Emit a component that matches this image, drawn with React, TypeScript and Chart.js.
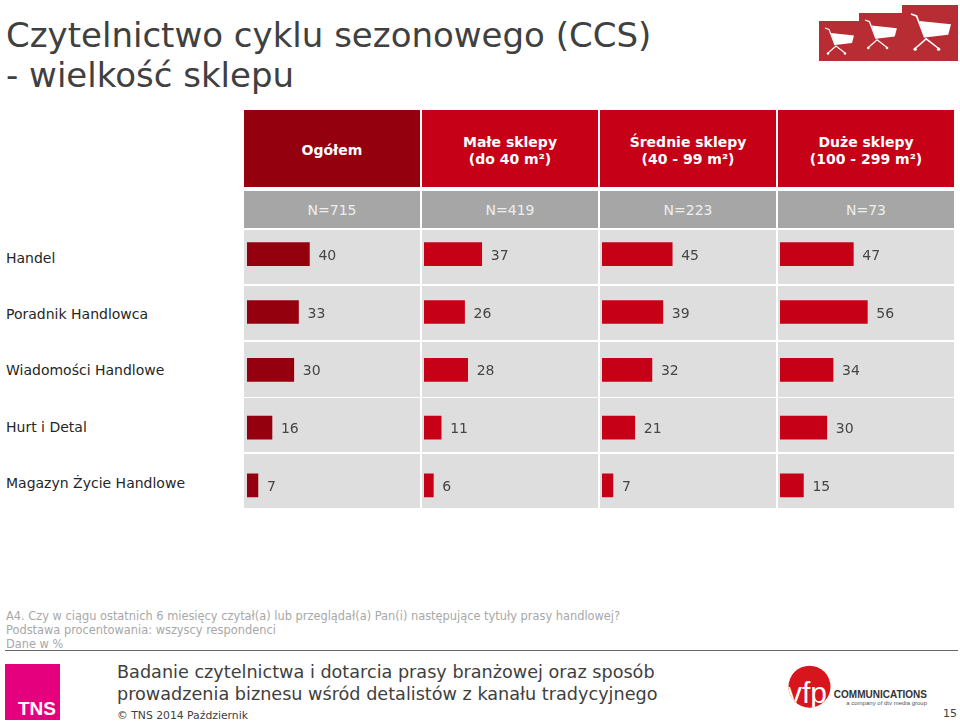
import React, { useEffect, useRef } from "react";
import { Chart, registerables } from "chart.js";

Chart.register(...registerables);

const titleLines = ["Czytelnictwo cyklu sezonowego (CCS)", "- wielkość sklepu"];
const categories = ["Handel", "Poradnik Handlowca", "Wiadomości Handlowe", "Hurt i Detal", "Magazyn Życie Handlowe"];
const columnHeaders = [["Ogółem"], ["Małe sklepy", "(do 40 m²)"], ["Średnie sklepy", "(40 - 99 m²)"], ["Duże sklepy", "(100 - 299 m²)"]];
const sampleSizes = ["N=715", "N=419", "N=223", "N=73"];
const ogolem = [40, 33, 30, 16, 7];
const maleSklepy = [37, 26, 28, 11, 6];
const srednieSklepy = [45, 39, 32, 21, 7];
const duzeSklepy = [47, 56, 34, 30, 15];
const seriesValues = [ogolem, maleSklepy, srednieSklepy, duzeSklepy];
const footnotes = [
  "A4. Czy w ciągu ostatnich 6 miesięcy czytał(a) lub przeglądał(a) Pan(i) następujące tytuły prasy handlowej?",
  "Podstawa procentowania: wszyscy respondenci",
  "Dane w %",
];
const footerLines = ["Badanie czytelnictwa i dotarcia prasy branżowej oraz sposób", "prowadzenia biznesu wśród detalistów z kanału tradycyjnego"];

const FONT = '"DejaVu Sans", Verdana, sans-serif';
const DARK = "#95000f";
const RED = "#c60017";
const colX = [244, 422, 600, 778];
const colW = 176;
const barBase = [247, 424, 602, 780];
const rowTops = [230, 286, 342, 398, 454];
const rowHeights = [54, 54, 55, 54, 54];
const labelY = [258, 314, 370, 427, 483];

function T({ x, y, size, color, children, w, align, bold, h = 24, font = FONT, spacing }: any) {
  return (
    <div
      style={{
        position: "absolute",
        left: x,
        top: y - h / 2,
        width: w,
        height: h,
        lineHeight: h + "px",
        fontFamily: font,
        fontSize: size,
        fontWeight: bold ? 700 : 400,
        color,
        textAlign: align || "left",
        whiteSpace: "pre",
        letterSpacing: spacing,
      }}
    >
      {children}
    </div>
  );
}

function Box({ x, y, w, h, c }: any) {
  return <div style={{ position: "absolute", left: x, top: y, width: w, height: h, background: c }} />;
}

const valueLabels = {
  id: "valueLabels",
  afterDatasetsDraw(chart: any) {
    const ctx = chart.ctx;
    const meta = chart.getDatasetMeta(0);
    const data = chart.data.datasets[0].data;
    ctx.save();
    ctx.font = "14px " + FONT;
    ctx.fillStyle = "#454545";
    ctx.textAlign = "left";
    ctx.textBaseline = "middle";
    meta.data.forEach((el: any, i: number) => ctx.fillText(String(data[i]), el.x + 9, el.y + 2));
    ctx.restore();
  },
};

function Panel({ values, color, left }: { values: number[]; color: string; left: number }) {
  const ref = useRef<HTMLCanvasElement>(null);
  useEffect(() => {
    const chart = new Chart(ref.current as HTMLCanvasElement, {
      type: "bar",
      data: {
        labels: categories,
        datasets: [{ data: values, backgroundColor: color, borderWidth: 0, barThickness: 23 }],
      },
      options: {
        indexAxis: "y",
        animation: false,
        responsive: false,
        maintainAspectRatio: false,
        layout: { padding: { top: 0.3, bottom: 0.7, left: 0, right: 0 } },
        plugins: { legend: { display: false }, tooltip: { enabled: false } },
        scales: {
          x: { display: false, min: 0, max: 100 },
          y: { display: false },
        },
      },
      plugins: [valueLabels],
    } as any);
    return () => chart.destroy();
  }, []);
  return <canvas ref={ref} width={156} height={290} style={{ position: "absolute", left, top: 225, width: 156, height: 290 }} />;
}

function Cart({ x, y, s }: { x: number; y: number; s: number }) {
  return (
    <g transform={`translate(${x} ${y}) scale(${s})`}>
      <polygon points="6,5 29,7.5 27,15 10,17" fill="#fff" />
      <polyline points="0,0 4,1.4 10,17" fill="none" stroke="#fff" strokeWidth={1.2} />
      <polyline points="3,25 11,18 20,25" fill="none" stroke="#fff" strokeWidth={1.1} />
      <circle cx={3} cy={25.5} r={1.2} fill="#fff" />
      <circle cx={20} cy={25.5} r={1.2} fill="#fff" />
    </g>
  );
}

export default function App() {
  useEffect(() => {
    document.body.style.margin = "0";
  }, []);
  return (
    <div style={{ position: "absolute", left: 0, top: 0, width: 960, height: 724, overflow: "hidden", background: "#fff" }}>
      {titleLines.map((t, i) => (
        <T key={t} x={6} y={35 + i * 40} size={34} color="#404040" h={44}>
          {t}
        </T>
      ))}

      <svg style={{ position: "absolute", left: 0, top: 0 }} width={960} height={70}>
        <rect x={819} y={21} width={139} height={40} fill="#b72d33" />
        <rect x={859} y={13} width={99} height={48} fill="#b72d33" />
        <rect x={902} y={5} width={56} height={56} fill="#b72d33" />
        <Cart x={825} y={28} s={1} />
        <Cart x={865} y={20} s={1.1} />
        <Cart x={911} y={14} s={1.38} />
      </svg>

      {colX.map((x, c) => (
        <React.Fragment key={x}>
          <Box x={x} y={110} w={colW} h={77} c={c === 0 ? DARK : RED} />
          <Box x={x} y={191} w={colW} h={37} c="#a6a6a6" />
          {rowTops.map((y, r) => (
            <Box key={y} x={x} y={y} w={colW} h={rowHeights[r]} c="#dedede" />
          ))}
          {columnHeaders[c].map((line, l) => (
            <T
              key={line}
              x={x}
              w={colW}
              align="center"
              bold
              size={14}
              color="#fff"
              y={columnHeaders[c].length === 1 ? 150 : 142 + l * 16.5}
            >
              {line}
            </T>
          ))}
          <T x={x} w={colW} align="center" y={210} size={14} color="#eeeeee">
            {sampleSizes[c]}
          </T>
        </React.Fragment>
      ))}

      {categories.map((c, i) => (
        <T key={c} x={6} y={labelY[i]} size={14} color="#262626">
          {c}
        </T>
      ))}

      {seriesValues.map((v, i) => (
        <Panel key={i} values={v} color={i === 0 ? DARK : RED} left={barBase[i]} />
      ))}

      {footnotes.map((t, i) => (
        <T key={t} x={6} y={616 + i * 14} size={11.4} h={14} color="#a8a8a8">
          {t}
        </T>
      ))}
      <Box x={5} y={650} w={953} h={1} c="#666666" />

      <Box x={5} y={664} w={55} h={56} c="#e5007e" />
      <T x={5} w={51} align="right" y={709} size={19} bold h={24} color="#fff" font='"Liberation Sans", sans-serif'>
        TNS
      </T>

      {footerLines.map((t, i) => (
        <T key={t} x={117} y={672 + i * 22} size={17.64} color="#404040">
          {t}
        </T>
      ))}
      <T x={117} y={716} size={10.8} h={14} color="#404040">
        © TNS 2014 Październik
      </T>
      <T x={900} w={57} align="right" y={714} size={11} h={14} color="#404040">
        15
      </T>

      <svg style={{ position: "absolute", left: 780, top: 660 }} width={60} height={60}>
        <defs>
          <clipPath id="vfpc">
            <circle cx={29.5} cy={26.7} r={21} />
          </clipPath>
        </defs>
        <circle cx={29.5} cy={26.7} r={21} fill="#d8141c" />
        <text x={27} y={43} textAnchor="middle" fontFamily='"Liberation Sans", sans-serif' fontSize={30} fill="#fff" clipPath="url(#vfpc)">
          vfp
        </text>
      </svg>
      <T x={800} w={127} align="right" y={695} size={10} bold h={14} color="#333" font='"Liberation Sans", sans-serif'>
        COMMUNICATIONS
      </T>
      <T x={800} w={127} align="right" y={702.5} size={6} h={8} color="#555" font='"Liberation Sans", sans-serif'>
        a company of dtv media group
      </T>
    </div>
  );
}
